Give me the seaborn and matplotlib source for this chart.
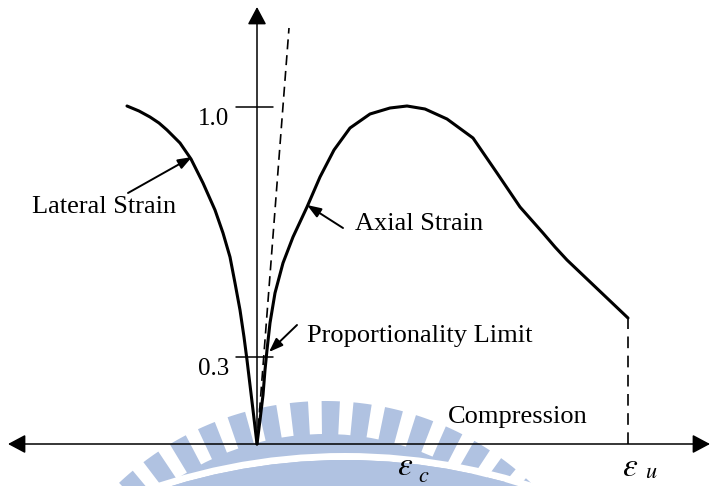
import numpy as np
import pandas as pd
import matplotlib
matplotlib.use("Agg")
import matplotlib.pyplot as plt
from matplotlib.patches import Wedge, Circle
import seaborn as sns

# ---------------- data (schematic units) ----------------
lateral_strain = [-130, -118, -107, -98, -90, -77, -66, -54, -42, -34, -27,
                  -22, -17, -13, -10, -7, -4, 0]
lateral_stress = [338, 333, 327, 321, 314, 301, 285, 261, 234, 211, 187,
                  161, 134, 107, 84, 59, 34, 0]

axial_strain = [0, 3, 6, 8, 10, 13, 18, 26, 36, 50, 63, 77, 93, 113, 133, 150,
                168, 190, 216, 240, 263, 286, 298, 310, 371]
axial_stress = [0, 24, 49, 74, 94, 121, 151, 181, 207, 237, 267, 294, 316, 330,
                336, 338, 335, 325, 306, 271, 237, 211, 197, 184, 126]

elastic_strain = [0, 32]
elastic_stress = [0, 416]

ultimate_strain = 371
ultimate_stress = 126
peak_strain = 148

tick_values = [87, 337]
tick_labels = ["0.3", "1.0"]

# ---------------- style ----------------
sns.set_theme(style="white")
plt.rcParams["font.family"] = ["Liberation Serif", "DejaVu Serif"]
plt.rcParams["mathtext.fontset"] = "stix"
plt.rcParams["text.color"] = "black"

fig = plt.figure(figsize=(7.11, 4.86), dpi=100)
ax = fig.add_axes([0, 0, 1, 1])
ax.set_xlim(-257, 454)
ax.set_ylim(-42, 444)
ax.axis("off")

# ---------------- faint watermark ----------------
wm = "#b0c2e1"
c1 = (68, -257)
c2 = (88, -609)
ax.add_patch(Circle(c1, 267, color=wm, lw=0, zorder=0))
for phi in 1.1 + 6.1 * np.arange(-8, 8):
    th = 90 - phi
    ax.add_patch(Wedge(c1, 300, th - 1.75, th + 1.75, width=36, color=wm, lw=0, zorder=0))
ax.add_patch(Wedge(c2, 600, 0, 180, width=7, color="white", lw=0, zorder=0.5))
ax.add_patch(Circle(c2, 593, color=wm, lw=0, zorder=0.6))

# ---------------- axes arrows ----------------
head = "-|>,head_length=0.6,head_width=0.32"
ax.annotate("", xy=(453, 0), xytext=(-249, 0),
            arrowprops=dict(arrowstyle="<|-|>,head_length=0.6,head_width=0.32",
                            mutation_scale=18, lw=1.1, color="black",
                            shrinkA=0, shrinkB=0), zorder=3)
ax.annotate("", xy=(0, 437), xytext=(0, 0),
            arrowprops=dict(arrowstyle=head, mutation_scale=18, lw=1.1,
                            color="black", shrinkA=0, shrinkB=0), zorder=3)

# ticks on stress axis
for v, lab in zip(tick_values, tick_labels):
    ax.plot([-21, 16], [v, v], color="black", lw=1.1, zorder=3)
    ax.text(-28, v - 12, lab, ha="right", va="center", fontsize=18, color="black")

# ---------------- curves ----------------
sns.lineplot(x=lateral_strain, y=lateral_stress, sort=False, estimator=None,
             color="black", lw=2.2, ax=ax, zorder=4,
             solid_joinstyle="round", solid_capstyle="round")
sns.lineplot(x=axial_strain, y=axial_stress, sort=False, estimator=None,
             color="black", lw=2.2, ax=ax, zorder=4,
             solid_joinstyle="round", solid_capstyle="round")
ax.plot(elastic_strain, elastic_stress, color="black", lw=1.2,
        dashes=(6, 3.5), zorder=4)
ax.plot([ultimate_strain, ultimate_strain], [0, ultimate_stress], color="black",
        lw=1.2, dashes=(7, 4.5), zorder=4)

# ---------------- annotations ----------------
arw = dict(arrowstyle="-|>,head_length=0.6,head_width=0.22", mutation_scale=14,
           lw=1.4, color="black", shrinkA=0, shrinkB=0)
ax.annotate("", xy=(-65, 287), xytext=(-129, 251), arrowprops=arw, zorder=5)
ax.text(-225, 231, "Lateral Strain", fontsize=19, ha="left", va="baseline")

ax.annotate("", xy=(50, 239), xytext=(86, 216), arrowprops=arw, zorder=5)
ax.text(98, 214, "Axial Strain", fontsize=19, ha="left", va="baseline")

ax.annotate("", xy=(12, 92), xytext=(40, 119), arrowprops=arw, zorder=5)
ax.text(50, 102, "Proportionality Limit", fontsize=19, ha="left", va="baseline")

ax.text(191, 21, "Compression", fontsize=19, ha="left", va="baseline")

# strain markers
ax.text(peak_strain, -31, r"$\varepsilon$", fontsize=24, ha="center", va="baseline")
ax.text(peak_strain + 19, -38, r"$c$", fontsize=16, ha="center", va="baseline")
ax.text(ultimate_strain + 2, -32, r"$\varepsilon$", fontsize=24, ha="center", va="baseline")
ax.text(ultimate_strain + 23, -34, r"$u$", fontsize=16, ha="center", va="baseline")

fig.savefig("out.png", dpi=100)
